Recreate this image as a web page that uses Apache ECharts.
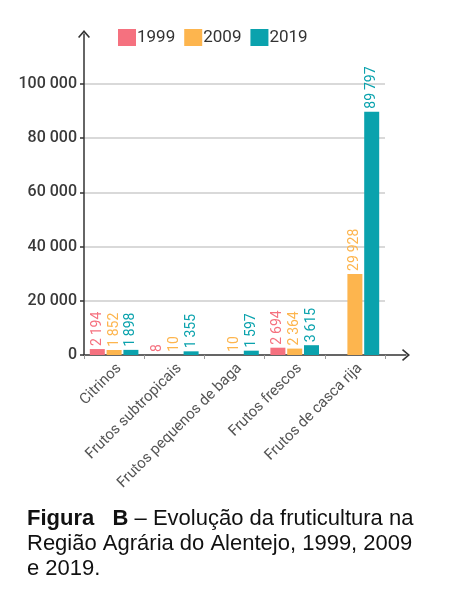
<!DOCTYPE html>
<html>
<head>
<meta charset="utf-8">
<script src="https://cdn.jsdelivr.net/npm/echarts@6/dist/echarts.min.js"></script>
<style>
  html, body { margin: 0; padding: 0; background: #fff; }
  #chart { width: 452px; height: 597px; }
</style>
</head>
<body>
<div id="chart"></div>
<script>
// data
const categorias = ['Citrinos', 'Frutos subtropicais', 'Frutos pequenos de baga', 'Frutos frescos', 'Frutos de casca rija'];
const anos = ['1999', '2009', '2019'];
const v1999 = [2194, 8, '-', 2694, '-'];
const v2009 = [1852, 10, 10, 2364, 29928];
const v2019 = [1898, 1355, 1597, 3615, 89797];
const yTicks = [0, 20000, 40000, 60000, 80000, 100000];
const cores = ['#F5717F', '#FDB54E', '#0AA2AD'];

const fonte = 'Roboto, "Liberation Sans Narrow", sans-serif';
const seta = 'path://M0,7 L6,0 L12,7 L10.8,8 L6,2.4 L1.2,8 Z';

function fmt(n) {
  // espaço fino como separador de milhares
  return String(n).replace(/\B(?=(\d{3})+(?!\d))/g, '\u2009');
}

function serie(nome, dados, cor) {
  return {
    name: nome,
    type: 'bar',
    xAxisIndex: 0,
    yAxisIndex: 0,
    data: dados,
    barWidth: 15,
    barGap: '12%',
    itemStyle: { color: cor },
    label: {
      show: true,
      position: 'top',
      rotate: 90,
      align: 'left',
      verticalAlign: 'middle',
      distance: 3,
      color: cor,
      fontFamily: fonte,
      fontSize: 14,
      formatter: p => fmt(p.value)
    }
  };
}

const chart = echarts.init(document.getElementById('chart'));

const option = {
  animation: false,
  backgroundColor: '#fff',
  title: {
    left: 22,
    top: 501,
    text: '{b|Figura}   {b|B} – Evolução da fruticultura na\nRegião Agrária do Alentejo, 1999, 2009\ne 2019.',
    textStyle: {
      fontFamily: '"Liberation Sans", Arial, sans-serif',
      fontSize: 22,
      fontWeight: 'normal',
      color: '#111',
      lineHeight: 25,
      rich: {
        b: { fontFamily: '"Liberation Sans", Arial, sans-serif', fontSize: 22, fontWeight: 'bold', color: '#111', lineHeight: 25 }
      }
    }
  },
  legend: {
    data: anos,
    left: 118,
    top: 29,
    padding: 0,
    itemWidth: 18,
    itemHeight: 17,
    itemGap: 9,
    icon: 'rect',
    textStyle: { fontFamily: fonte, fontSize: 17, color: '#333', padding: [0, 0, 0, -4] }
  },
  grid: [
    { left: 84, right: 67, top: 84, bottom: 242 },
    { left: 84, right: 46, top: 34, bottom: 242 }
  ],
  xAxis: [
    {
      type: 'category',
      gridIndex: 0,
      data: categorias,
      axisLine: { show: false },
      axisTick: { show: true, length: 4, lineStyle: { color: '#999' } },
      axisLabel: {
        rotate: 45,
        interval: 0,
        margin: 16,
        padding: [0, -7, 0, 0],
        color: '#555',
        fontFamily: fonte,
        fontSize: 15
      }
    },
    {
      type: 'value',
      gridIndex: 1,
      min: 0,
      max: 1,
      axisLine: {
        show: true,
        lineStyle: { color: '#333', width: 1.5 },
        symbol: ['none', seta],
        symbolSize: [12, 8],
        symbolOffset: [0, 0]
      },
      axisTick: { show: false },
      axisLabel: { show: false },
      splitLine: { show: false }
    }
  ],
  yAxis: [
    {
      type: 'value',
      gridIndex: 0,
      min: 0,
      max: 100000,
      interval: 20000,
      axisLine: { show: false },
      axisTick: { show: true, length: 4, lineStyle: { color: '#333', width: 1.5 } },
      axisLabel: {
        customValues: yTicks,
        margin: 7,
        color: '#3a3a3a',
        fontFamily: fonte,
        fontSize: 16,
        fontWeight: 500,
        formatter: v => String(v).replace(/\B(?=(\d{3})+(?!\d))/g, ' ')
      },
      splitLine: { show: true, showMinLine: false, lineStyle: { color: '#ccc', width: 1.5 } }
    },
    {
      type: 'value',
      gridIndex: 1,
      min: 0,
      max: 1,
      axisLine: {
        show: true,
        lineStyle: { color: '#333', width: 1.5 },
        symbol: ['none', seta],
        symbolSize: [12, 8],
        symbolOffset: [0, 0]
      },
      axisTick: { show: false },
      axisLabel: { show: false },
      splitLine: { show: false }
    }
  ],
  series: [
    serie(anos[0], v1999, cores[0]),
    serie(anos[1], v2009, cores[1]),
    serie(anos[2], v2019, cores[2])
  ]
};

chart.setOption(option);
</script>
</body>
</html>
